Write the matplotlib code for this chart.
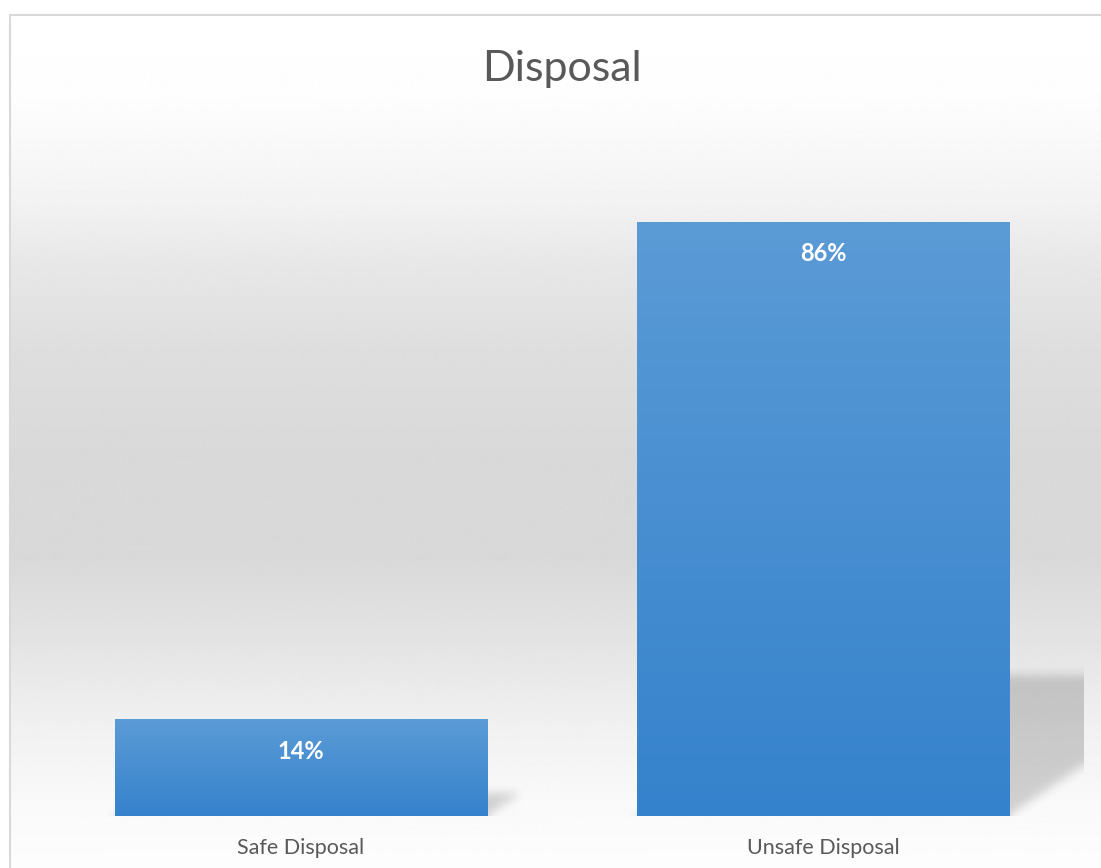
import numpy as np
import matplotlib
matplotlib.use("Agg")
import matplotlib.pyplot as plt
from matplotlib.colors import LinearSegmentedColormap

# data
categories = ["Safe Disposal", "Unsafe Disposal"]
shares = [0.14, 0.86]
value_labels = ["14%", "86%"]
title = "Disposal"

W, H, DPI = 1101, 868, 100
PX = 72 / DPI  # points per pixel
TEXT = '#595959'
plt.rcParams['font.family'] = ['Lato', 'DejaVu Sans']

fig = plt.figure(figsize=(W / DPI, H / DPI), dpi=DPI)
fig.patch.set_facecolor('white')

# chart area: grey vertical gradient with a thin border on top/left
bg = fig.add_axes([0, 0, 1, 1], zorder=0)
bg.set_xlim(0, W)
bg.set_ylim(H, 0)
bg.axis('off')
rows = np.arange(15, H + 1)
stops_y = [15, 100, 200, 260, 350, 450, 560, 650, 730, 800, 868]
stops_v = [255, 253, 243, 232, 222, 217, 217, 229, 241, 249, 253]
shade = np.interp(rows, stops_y, stops_v) / 255
bg.imshow(np.repeat(shade[:, None], 2, axis=1), cmap='gray', vmin=0, vmax=1,
          extent=(10, W, H, 15), aspect='auto', interpolation='bilinear')
bg.plot([10, 10, W], [H, 15, 15], color='#d9d9d9', lw=1.5)
bg.set_xlim(0, W)
bg.set_ylim(H, 0)

fig.text(561.5 / W, 1 - 81 / H, title, ha='center', va='baseline',
         fontsize=31, color=TEXT)

# plot area
ax = fig.add_axes([40 / W, (H - 816) / H, 1044 / W, 691 / H], zorder=1)
ax.patch.set_alpha(0)
for s in ax.spines.values():
    s.set_visible(False)
ax.set_xticks([])
ax.set_yticks([])

x = np.arange(len(categories))
bars = ax.bar(x, shares, width=0.713, color='none', zorder=3)

# perspective shadow behind each bar, blurred
SHADOW_RISE = 0.236   # shadow height relative to bar height
SHADOW_LEAN = 1.95    # horizontal shift per unit of shadow height
nx, ny, pad = 1044, 691, 40
gx = np.linspace(-0.5, 1.5, nx)
gy = np.linspace(0, 1, ny)
XX, YY = np.meshgrid(gx, gy)
mask = np.zeros_like(XX)
for b in bars:
    x0, w, h = b.get_x(), b.get_width(), b.get_height()
    top = SHADOW_RISE * h
    inside = ((YY <= top) & (XX >= x0 + YY * SHADOW_LEAN)
              & (XX <= x0 + w + YY * SHADOW_LEAN))
    mask[inside] = 1.0

sigma = 5.0
k = np.exp(-0.5 * (np.arange(-15, 16) / sigma) ** 2)
k /= k.sum()
padded = np.pad(mask, ((pad, 0), (0, pad)), mode='edge')
padded = np.apply_along_axis(lambda r: np.convolve(r, k, mode='same'), 1, padded)
padded = np.apply_along_axis(lambda c: np.convolve(c, k, mode='same'), 0, padded)
blurred = padded[pad:, :nx]
rgba = np.zeros((ny, nx, 4))
rgba[..., 3] = 0.17 * blurred
ax.imshow(rgba, origin='lower', extent=(-0.5, 1.5, 0, 1), aspect='auto',
          zorder=2, interpolation='bilinear')

# bars filled with a vertical blue gradient
bar_cmap = LinearSegmentedColormap.from_list('bar', ['#3582cc', '#5b9bd6'])
grad = np.linspace(0, 1, 256)[:, None]
for b, lbl in zip(bars, value_labels):
    x0, w, h = b.get_x(), b.get_width(), b.get_height()
    im = ax.imshow(grad, cmap=bar_cmap, origin='lower', aspect='auto',
                   extent=(x0, x0 + w, 0, h), zorder=3, interpolation='bilinear')
    im.set_clip_path(b)
    ax.annotate(lbl, (x0 + w / 2, h), xytext=(0, -39.5 * PX),
                textcoords='offset points', ha='center', va='baseline',
                color='white', fontweight='bold', fontsize=17, zorder=5)

for xi, name in zip(x, categories):
    ax.annotate(name, (xi, 0), xycoords=('data', 'axes fraction'),
                xytext=(0, -38 * PX), textcoords='offset points',
                ha='center', va='baseline', color=TEXT, fontsize=15.5,
                annotation_clip=False)

ax.set_xlim(-0.5, len(categories) - 0.5)
ax.set_ylim(0, 1)

fig.savefig('out.png', dpi=DPI)
